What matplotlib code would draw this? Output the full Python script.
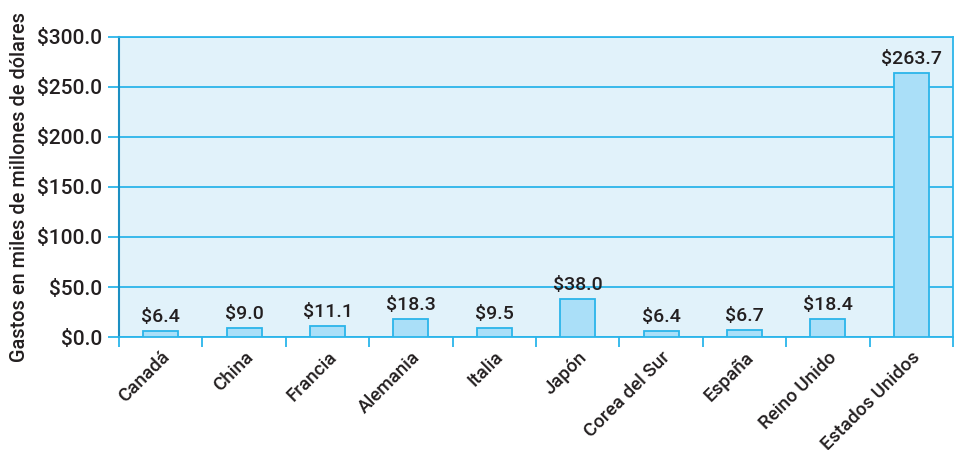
import matplotlib.pyplot as plt
import numpy as np

# datos
paises = ['Canadá', 'China', 'Francia', 'Alemania', 'Italia', 'Japón',
          'Corea del Sur', 'España', 'Reino Unido', 'Estados Unidos']
gastos = [6.4, 9.0, 11.1, 18.3, 9.5, 38.0, 6.4, 6.7, 18.4, 263.7]
yticks = [0, 50, 100, 150, 200, 250, 300]

# colores
bg = '#e1f2fa'
bar_fill = '#aadff8'
line_blue = '#2bb5ea'
spine_blue = '#1b8fc2'
txt = '#231f20'

plt.rcParams['font.family'] = ['Roboto', 'DejaVu Sans']
plt.rcParams['font.weight'] = 'medium'

fig = plt.figure(figsize=(9.55, 4.5), dpi=100)
ax = fig.add_axes([0.1246, 0.251, 0.8734, 0.667])
ax.set_facecolor(bg)

x = np.arange(len(paises))
ax.bar(x, gastos, width=0.42, color=bar_fill, edgecolor=line_blue, linewidth=1.3, zorder=3)

for xi, v in zip(x, gastos):
    ax.text(xi, v + 5, f"${v:.1f}", ha='center', va='bottom', fontsize=14, color=txt, zorder=4)

ax.set_xlim(-0.5, len(paises) - 0.5)
ax.set_ylim(0, 300)
ax.set_yticks(yticks)
ax.set_yticklabels([f"${t:.1f}" for t in yticks], fontsize=15, color=txt)
ax.yaxis.grid(True, color=line_blue, linewidth=1.3, zorder=1)
ax.set_axisbelow(True)

# etiquetas del eje x, marcas entre categorias
ax.set_xticks(x)
ax.set_xticklabels(paises, rotation=45, ha='right', rotation_mode='anchor', fontsize=13.5, color=txt)
ax.tick_params(axis='x', length=0, pad=8)
ax.set_xticks(np.arange(len(paises) + 1) - 0.5, minor=True)
ax.tick_params(axis='x', which='minor', length=7, color=line_blue, width=1.3, direction='out')
ax.tick_params(axis='y', length=8, color=line_blue, width=1.3, pad=4)

for s in ['top', 'right', 'bottom']:
    ax.spines[s].set_color(line_blue)
    ax.spines[s].set_linewidth(1.3)
ax.spines['left'].set_color(spine_blue)
ax.spines['left'].set_linewidth(1.5)

ax.set_ylabel('Gastos en miles de millones de dólares', fontsize=14.3, fontweight='medium',
              color=txt, labelpad=6)

plt.savefig('out.png', dpi=100)
